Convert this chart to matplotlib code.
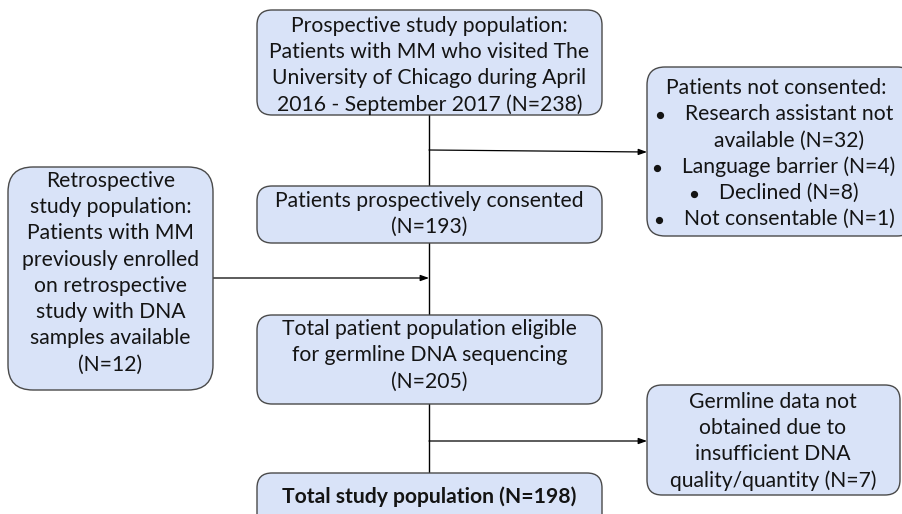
import matplotlib
matplotlib.use("Agg")
import matplotlib.pyplot as plt
from matplotlib.patches import FancyBboxPatch

plt.rcParams['font.family'] = ['Lato', 'DejaVu Sans']

# ---- flowchart content ----
top_lines = ["Prospective study population:",
             "Patients with MM who visited The",
             "University of Chicago during April",
             "2016 - September 2017 (N=238)"]
excluded1_lines = ["Patients not consented:",
                   "Research assistant not",
                   "available (N=32)",
                   "Language barrier (N=4)",
                   "Declined (N=8)",
                   "Not consentable (N=1)"]
excluded1_bullets = [False, True, False, True, True, True]
retro_lines = ["Retrospective", "study population:", "Patients with MM",
               "previously enrolled", "on retrospective", "study with DNA",
               "samples available", "(N=12)"]
consent_lines = ["Patients prospectively consented", "(N=193)"]
eligible_lines = ["Total patient population eligible",
                  "for germline DNA sequencing", "(N=205)"]
excluded2_lines = ["Germline data not", "obtained due to",
                   "insufficient DNA", "quality/quantity (N=7)"]
final_lines = ["Total study population (N=198)"]

FILL = "#d9e3f8"
EDGE = "#4a4a4a"
TXT = "#141414"
FS = 15.2
LS = 26.2

fig = plt.figure(figsize=(9.02, 5.14), dpi=100)
ax = fig.add_axes([0, 0, 1, 1])
ax.set_xlim(0, 902)
ax.set_ylim(514, 0)
ax.axis("off")


def box(x0, y0, x1, y1, r=15):
    p = FancyBboxPatch((x0, y0), x1 - x0, y1 - y0,
                       boxstyle=f"round,pad=0,rounding_size={r}",
                       fc=FILL, ec=EDGE, lw=1.0, zorder=2)
    ax.add_patch(p)


def lines(cx, y_first, texts, bold=False):
    out = []
    for i, t in enumerate(texts):
        out.append(ax.text(cx, y_first + i * LS, t, ha="center", va="center",
                           fontsize=FS, color=TXT,
                           fontweight="bold" if bold else "normal", zorder=3))
    return out


# connectors
ax.plot([429, 429], [115, 473], color="black", lw=1.0, zorder=1)
arrow_kw = dict(arrowstyle="-|>,head_length=0.5,head_width=0.18",
                color="black", lw=0.9, shrinkA=0, shrinkB=0)
ax.annotate("", xy=(647, 152), xytext=(429, 150), arrowprops=arrow_kw, zorder=1)
ax.annotate("", xy=(429, 278), xytext=(213, 278), arrowprops=arrow_kw, zorder=1)
ax.annotate("", xy=(647, 441), xytext=(429, 441), arrowprops=arrow_kw, zorder=1)

# boxes
box(257, 10, 602, 115)
lines(429.5, 26, top_lines)

box(647, 67, 915, 236, r=18)
# bulleted lines are shifted right to leave room for the bullet
ex_cx = [776 if not b else 789 for b in excluded1_bullets]
ex_txt = []
for i, t in enumerate(excluded1_lines):
    ex_txt.append(ax.text(ex_cx[i], 88 + i * LS, t, ha="center", va="center",
                          fontsize=FS, color=TXT, zorder=3))
ex_txt[2].set_x(789)

box(8, 167, 213, 390, r=25)
lines(110.5, 181, retro_lines)

box(257, 186, 602, 243)
lines(429.5, 201, consent_lines)

box(257, 315, 602, 404)
lines(429.5, 329, eligible_lines)

box(647, 385, 900, 495)
lines(773, 402, excluded2_lines)

box(257, 473, 602, 530)
lines(429.5, 497, final_lines, bold=True)

# bullets placed relative to the rendered text extent
fig.canvas.draw()
rend = fig.canvas.get_renderer()
inv = ax.transData.inverted()
for t, b in zip(ex_txt, excluded1_bullets):
    if not b:
        continue
    bb = t.get_window_extent(rend)
    x_left = inv.transform((bb.x0, bb.y0))[0]
    ax.plot([x_left - 25], [t.get_position()[1] + 1], marker="o", ms=4.2,
            color=TXT, zorder=3, linestyle="none")

fig.savefig("out.png", dpi=100, facecolor="white")
